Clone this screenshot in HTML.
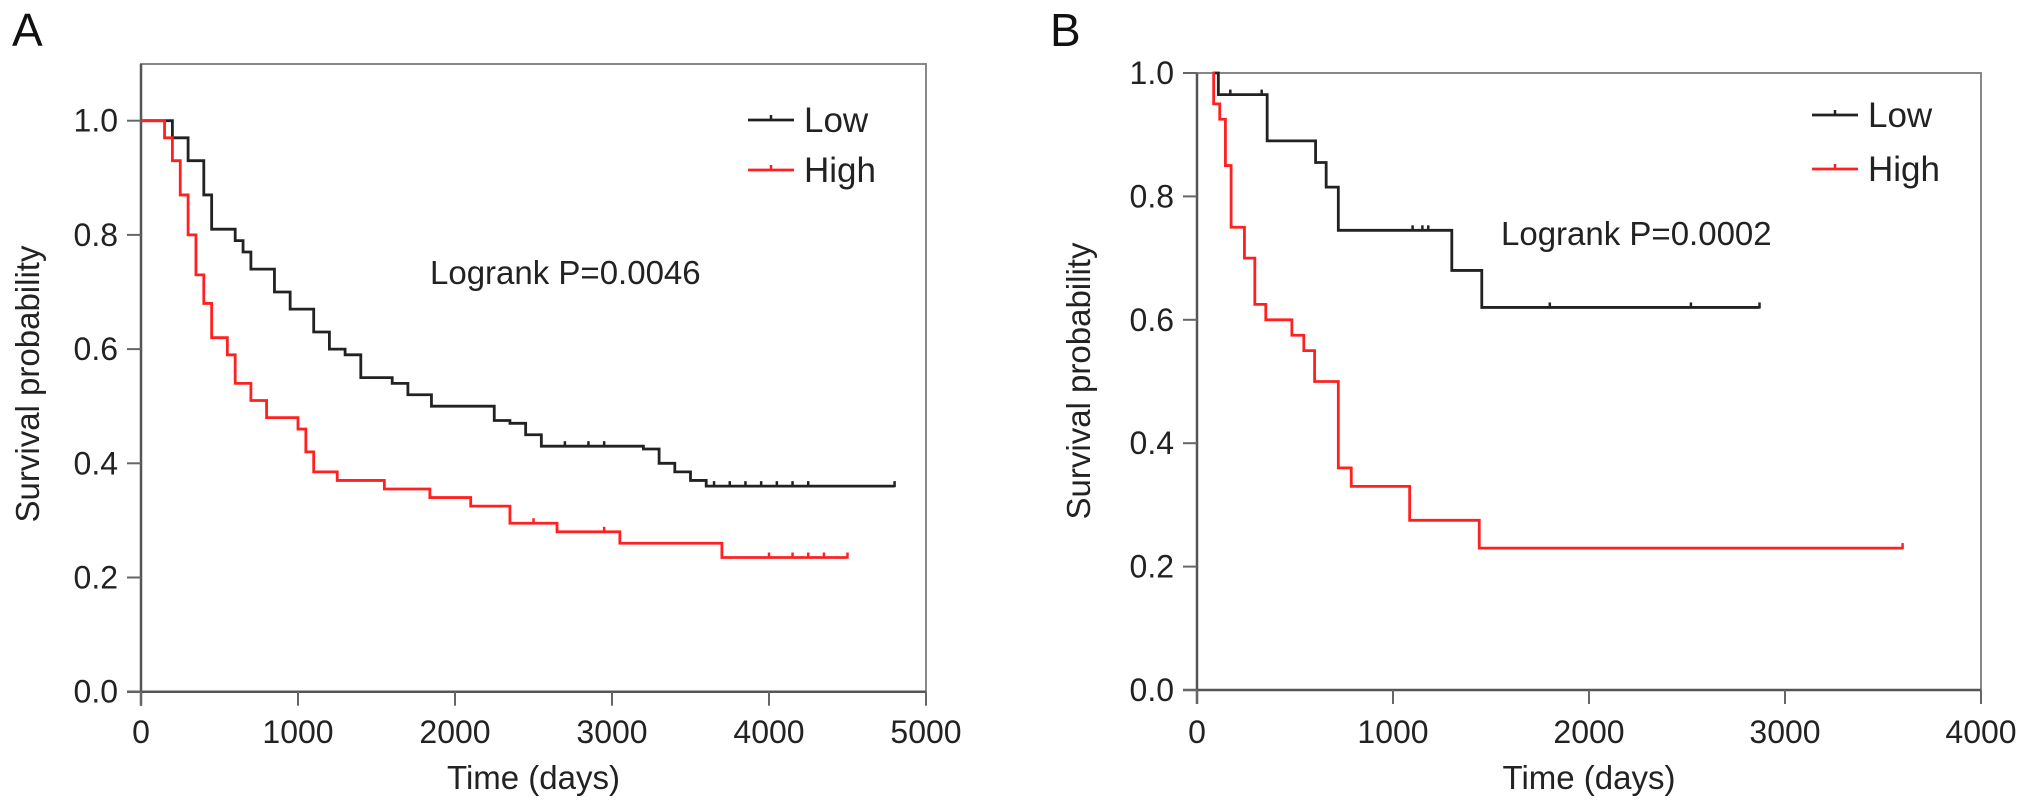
<!DOCTYPE html>
<html><head><meta charset="utf-8"><style>
body{margin:0;background:#fff;}
svg{display:block;font-family:"Liberation Sans",sans-serif;}
</style></head><body>
<svg id="fig" width="2032" height="811" viewBox="0 0 2032 811"></svg>
<script>
// Panel A data
const aLowTimes=[0,200,300,400,450,600,650,700,850,950,1100,1200,1300,1400,1600,1700,1850,2150,2250,2350,2450,2550,3200,3300,3400,3500,3600,4800];
const aLowSurv=[1.0,0.97,0.93,0.87,0.81,0.79,0.77,0.74,0.70,0.67,0.63,0.60,0.59,0.55,0.54,0.52,0.50,0.50,0.475,0.47,0.45,0.43,0.425,0.40,0.385,0.37,0.36,0.36];
const aHighTimes=[0,80,150,200,250,300,350,400,450,550,600,700,800,950,1000,1050,1100,1250,1550,1840,2100,2350,2650,3050,3700,4500];
const aHighSurv=[1.0,1.0,0.97,0.93,0.87,0.80,0.73,0.68,0.62,0.59,0.54,0.51,0.48,0.48,0.46,0.42,0.385,0.37,0.355,0.34,0.325,0.295,0.28,0.26,0.235,0.235];
const aLowCens=[2700,2850,2950,3650,3750,3850,3950,4050,4150,4250,4800];
const aHighCens=[2500,2950,4000,4150,4250,4350,4500];
// Panel B data
const bLowTimes=[80,109,358,605,659,721,1300,1453,2870];
const bLowSurv=[1.0,0.965,0.89,0.855,0.815,0.745,0.68,0.62,0.62];
const bHighTimes=[80,85,116,145,174,242,295,351,484,545,600,721,787,1085,1440,3600];
const bHighSurv=[1.0,0.95,0.925,0.85,0.75,0.70,0.625,0.60,0.575,0.55,0.50,0.36,0.33,0.275,0.23,0.23];
const bLowCens=[170,330,1100,1150,1180,1800,2520,2870];
const bHighCens=[3600];
const aXTicks=[0,1000,2000,3000,4000,5000];
const bXTicks=[0,1000,2000,3000,4000];
const yTicks=[0.0,0.2,0.4,0.6,0.8,1.0];

const NS="http://www.w3.org/2000/svg";
const svg=document.getElementById('fig');
function mk(tag,attrs,parent){const e=document.createElementNS(NS,tag);for(const k in attrs)e.setAttribute(k,attrs[k]);(parent||svg).appendChild(e);return e;}

function panel(cfg){
  const g=mk('g',{});
  
  
  const X=t=>cfg.x0+t/cfg.xmax*(cfg.x1-cfg.x0);
  const Y=p=>cfg.y0-p*(cfg.y0-cfg.yTop1);
  const fr=mk('rect',{x:cfg.x0,y:cfg.frameTop,width:cfg.x1-cfg.x0,height:cfg.y0-cfg.frameTop,fill:'none',stroke:'#888',"stroke-width":2},g);
  
  
  const ax=mk('path',{d:`M${cfg.x0},${cfg.frameTop}V${cfg.y0+14}M${cfg.x0-14},${cfg.y0}H${cfg.x1}`,fill:'none',stroke:'#555',"stroke-width":2.5},g);
  
  
  cfg.xTicks.forEach(t=>{
    const l=mk('line',{x1:X(t),x2:X(t),y1:cfg.y0,y2:cfg.y0+14,stroke:'#666',"stroke-width":2},g);
    
    
    const tx=mk('text',{x:X(t),y:743,"text-anchor":"middle","font-size":32,fill:'#222'},g);
    
    
    tx.textContent=t;
  });
  yTicks.forEach(p=>{
    const l=mk('line',{x1:cfg.x0-14,x2:cfg.x0,y1:Y(p),y2:Y(p),stroke:'#666',"stroke-width":2},g);
    
    
    const tx=mk('text',{x:cfg.x0-23,y:Y(p)+11,"text-anchor":"end","font-size":32,fill:'#222'},g);
    
    
    tx.textContent=p.toFixed(1);
  });
  function curve(ts,ss,cens,col,nm){
    let d=`M${X(ts[0])},${Y(ss[0])}`;
    for(let i=1;i<ts.length;i++){d+=`H${X(ts[i])}V${Y(ss[i])}`;}
    const p=mk('path',{d:d,fill:'none',stroke:col,"stroke-width":2.8},g);
    
    
    cens.forEach(c=>{
      let s=ss[0];for(let i=0;i<ts.length;i++){if(ts[i]<=c)s=ss[i];}
      const m=mk('line',{x1:X(c),x2:X(c),y1:Y(s)-5,y2:Y(s)+1,stroke:col,"stroke-width":2.5},g);
      
      
    });
  }
  curve(cfg.low[0],cfg.low[1],cfg.low[2],'#222',cfg.name+'-low-curve');
  curve(cfg.high[0],cfg.high[1],cfg.high[2],'#ff2020',cfg.name+'-high-curve');
  [['Low','#222',cfg.legY[0]],['High','#ff2020',cfg.legY[1]]].forEach(([t,c,y])=>{
    const l=mk('line',{x1:cfg.legX,x2:cfg.legX+46,y1:y,y2:y,stroke:c,"stroke-width":2.8},g);
    
    
    const m=mk('line',{x1:cfg.legX+23,x2:cfg.legX+23,y1:y-5,y2:y,stroke:c,"stroke-width":2.5},g);
    
    
    const tx=mk('text',{x:cfg.legX+56,y:y+12,"font-size":35,fill:'#222'},g);
    
    
    tx.textContent=t;
  });
  const lg=mk('text',{x:cfg.lrX,y:cfg.lrY,"font-size":33,fill:'#222'},g);
  
  
  lg.textContent=cfg.lrText;
  const xt=mk('text',{x:(cfg.x0+cfg.x1)/2,y:789,"text-anchor":"middle","font-size":33,fill:'#222'},g);
  
  
  xt.textContent='Time (days)';
  const yc=cfg.ytY;
  const yt=mk('text',{x:cfg.ytX,y:yc,"text-anchor":"middle","font-size":33,fill:'#222',transform:`rotate(-90 ${cfg.ytX} ${yc})`},g);
  
  
  yt.textContent='Survival probability';
  const pl=mk('text',{x:cfg.plX,y:46,"font-size":46,fill:'#111'},g);
  
  
  pl.textContent=cfg.label;
}

panel({name:'panel-a',label:'A',plX:12,x0:141,x1:926,xmax:5000,y0:691.7,yTop1:120.7,frameTop:64,
  xTicks:aXTicks,low:[aLowTimes,aLowSurv,aLowCens],high:[aHighTimes,aHighSurv,aHighCens],
  legX:748,legY:[120,170],lrX:430,lrY:284,lrText:'Logrank P=0.0046',ytX:39,ytY:384});
panel({name:'panel-b',label:'B',plX:1050,x0:1197,x1:1981,xmax:4000,y0:690,yTop1:73,frameTop:73,
  xTicks:bXTicks,low:[bLowTimes,bLowSurv,bLowCens],high:[bHighTimes,bHighSurv,bHighCens],
  legX:1812,legY:[115,169],lrX:1501,lrY:245,lrText:'Logrank P=0.0002',ytX:1090,ytY:381});
</script>
</body></html>
